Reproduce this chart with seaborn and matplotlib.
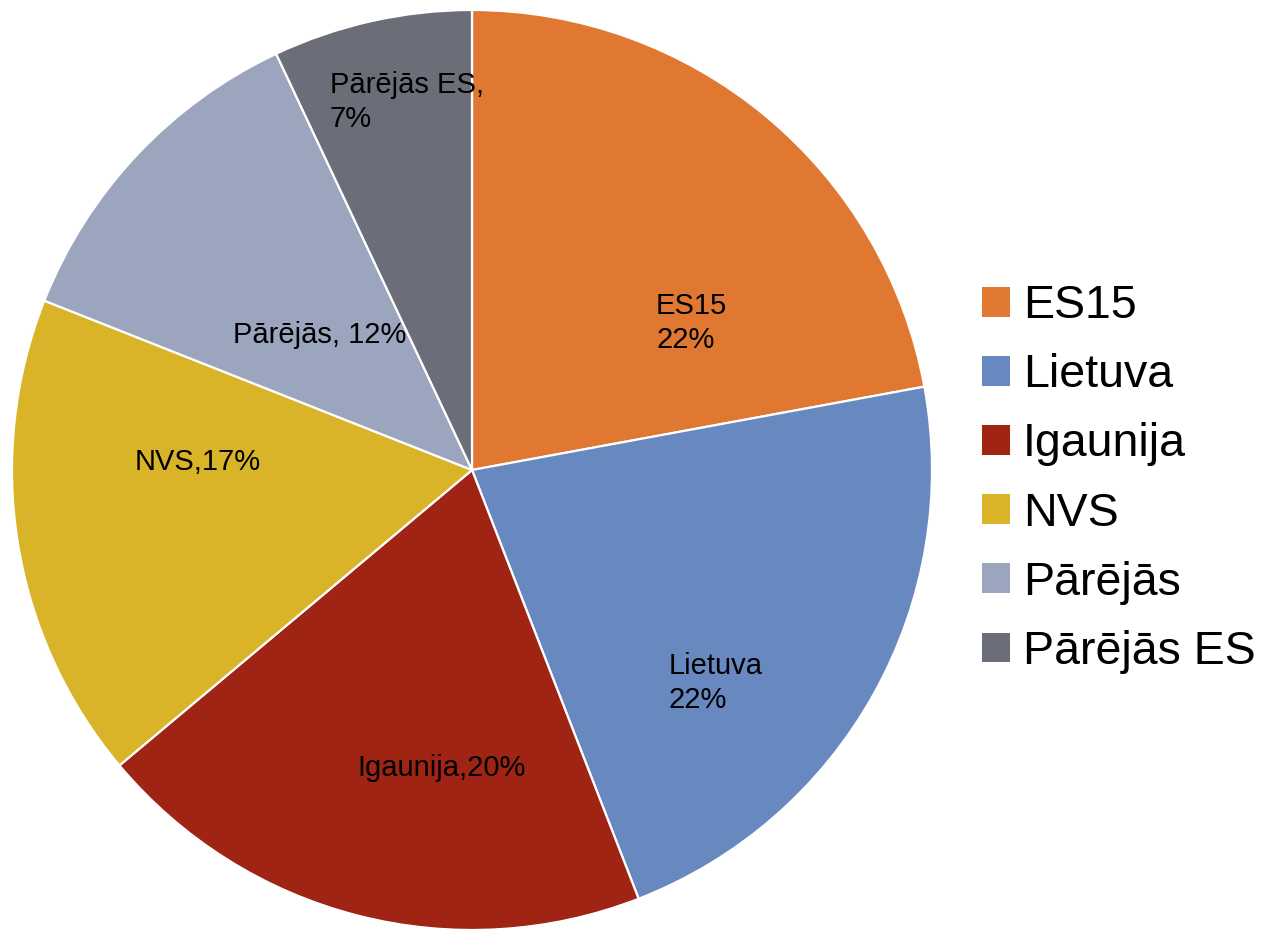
import matplotlib
matplotlib.use("Agg")
import matplotlib.pyplot as plt
import seaborn as sns
from matplotlib.patches import Patch

# dati
categories = ['ES15', 'Lietuva', 'Igaunija', 'NVS', 'Pārējās', 'Pārējās ES']
shares = [22.1, 22.0, 19.8, 17.1, 12.0, 7.0]
slice_labels = ['ES15\n22%', 'Lietuva\n22%', 'Igaunija,20%', 'NVS,17%',
                'Pārējās, 12%', 'Pārējās ES,\n7%']
colors = ['#E07832', '#6888C0', '#A02414', '#D9B429', '#9BA5BE', '#6B6E78']

sns.set_theme(style="white")
plt.rcParams['font.family'] = ['Liberation Sans', 'DejaVu Sans']
plt.rcParams['text.color'] = 'black'
palette = sns.color_palette(colors)

fig = plt.figure(figsize=(12.63, 9.30), dpi=100)
ax = fig.add_axes([472 / 1263 - 460 / 1263, 0.0, 920 / 1263, 920 / 930])

wedges, _ = ax.pie(shares, colors=palette, startangle=90, counterclock=False,
                   radius=1, wedgeprops=dict(edgecolor='white', linewidth=1.6))
ax.set_xlim(-1, 1)
ax.set_ylim(-1, 1)
ax.set_aspect('equal')
ax.axis('off')

# etiķešu novietojums (pie koordinātēs)
label_pos = [(0.40, 0.32), (0.428, -0.463), (-0.25, -0.648),
             (-0.733, 0.017), (-0.52, 0.293), (-0.309, 0.80)]
for (x, y), txt in zip(label_pos, slice_labels):
    ax.text(x, y, txt, ha='left', va='center', fontsize=21, color='black',
            linespacing=1.27)

handles = [Patch(facecolor=c, edgecolor='none') for c in palette]
fig.legend(handles, categories, loc='center left',
           bbox_to_anchor=(982 / 1263, 0.485), frameon=False,
           fontsize=33.5, handlelength=0.6, handleheight=0.6,
           handletextpad=0.28, labelspacing=0.54, borderpad=0,
           borderaxespad=0, labelcolor='black')

fig.savefig('out.png', dpi=100, facecolor='white')
